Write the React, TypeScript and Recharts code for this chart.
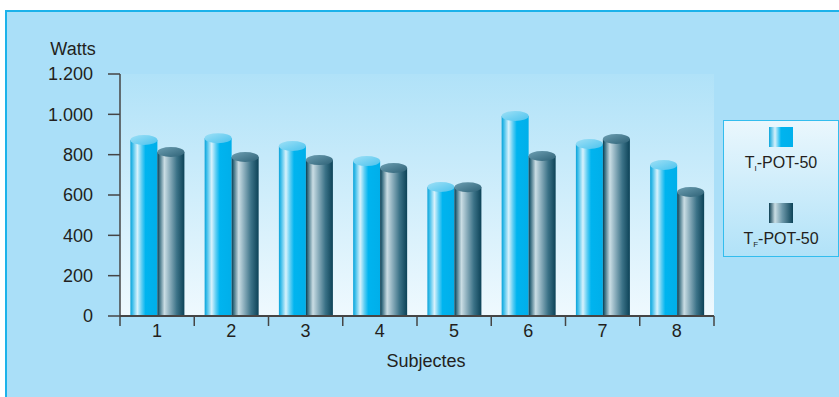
import React from "react";
import { BarChart, Bar, XAxis, YAxis, CartesianGrid, Legend } from "recharts";

// Power output (W) per subject, initial vs final test
const subjects = ["1", "2", "3", "4", "5", "6", "7", "8"];
const initialWatts = [873, 882, 843, 768, 640, 992, 853, 749];
const finalWatts = [813, 788, 773, 734, 638, 793, 878, 615];
const wattTicks = [0, 200, 400, 600, 800, 1000, 1200];
const seriesSubs = ["I", "F"];

const data = subjects.map((s, i) => ({ subject: s, ti: initialWatts[i], tf: finalWatts[i] }));

const FONT = "'Liberation Sans', Arial, Helvetica, sans-serif";
const INK = "#231f20";
const AXIS = "#454545";

const fmtThousands = (v: number) => v.toString().replace(/\B(?=(\d{3})+(?!\d))/g, ".");

function Cylinder(props: any) {
  const { x, y, width, height, body, cap } = props;
  if (!height || height <= 0) return null;
  const ry = 5;
  return (
    <g>
      <rect x={x} y={y} width={width} height={height} fill={`url(#${body})`} />
      <ellipse cx={x + width / 2} cy={y} rx={width / 2} ry={ry} fill={`url(#${cap})`} />
    </g>
  );
}

function SubjectTick(props: any) {
  const { x, y, payload, index } = props;
  const half = payload?.offset ?? 0;
  const last = index === subjects.length - 1;
  return (
    <g>
      <line x1={x - half} x2={x - half} y1={y} y2={y + 10} stroke={AXIS} strokeWidth={1.5} />
      {last && <line x1={x + half} x2={x + half} y1={y} y2={y + 10} stroke={AXIS} strokeWidth={1.5} />}
      <text x={x} y={y + 21} textAnchor="middle" fontSize={18} fontFamily={FONT} fill={INK}>
        {payload.value}
      </text>
    </g>
  );
}

function LegendBox() {
  const swatch = (id: string) => (
    <svg width={24} height={20} style={{ display: "block", margin: "0 auto" }}>
      <rect width={24} height={20} fill={`url(#${id})`} />
    </svg>
  );
  const label = (sub: string) => (
    <div style={{ fontFamily: FONT, fontSize: 16, color: INK, textAlign: "center", marginTop: 7 }}>
      T<sub style={{ fontSize: 8, verticalAlign: "-3px" }}>{sub}</sub>-POT-50
    </div>
  );
  return (
    <div
      style={{
        boxSizing: "border-box",
        width: 116,
        height: 137,
        border: "1.5px solid #33bdee",
        background: "linear-gradient(to bottom, #eaf7fd 0%, #b1e2f8 100%)",
        paddingTop: 6,
      }}
    >
      <svg width={0} height={0} style={{ position: "absolute" }}>
        <defs>
          <linearGradient id="legLight" x1="0" x2="1" y1="0" y2="0">
            <stop offset="0%" stopColor="#0aa6dc" />
            <stop offset="25%" stopColor="#d6f1fb" />
            <stop offset="50%" stopColor="#00b4ef" />
            <stop offset="100%" stopColor="#00b0ec" />
          </linearGradient>
          <linearGradient id="legDark" x1="0" x2="1" y1="0" y2="0">
            <stop offset="0%" stopColor="#0b3e52" />
            <stop offset="25%" stopColor="#c9dde4" />
            <stop offset="55%" stopColor="#6d98aa" />
            <stop offset="100%" stopColor="#0c4358" />
          </linearGradient>
        </defs>
      </svg>
      {swatch("legLight")}
      {label(seriesSubs[0])}
      <div style={{ height: 30 }} />
      {swatch("legDark")}
      {label(seriesSubs[1])}
    </div>
  );
}

export default function App() {
  return (
    <div style={{ position: "absolute", left: 0, top: 0, width: 839, height: 397, overflow: "hidden", background: "#fff" }}>
      <div
        style={{
          position: "absolute",
          left: 5,
          top: 10,
          width: 840,
          height: 400,
          background: "#aadff8",
          borderTop: "2px solid #1cb2ea",
          borderLeft: "2px solid #1cb2ea",
        }}
      />
      <div style={{ position: "absolute", left: 0, top: 0 }}>
        <BarChart
          width={839}
          height={397}
          data={data}
          margin={{ top: 74, right: 125, bottom: 29, left: 60 }}
          barCategoryGap="14%"
          barGap={0}
        >
          <defs>
            <linearGradient id="plotBg" x1="0" x2="0" y1="0" y2="1">
              <stop offset="0%" stopColor="#b0e2f8" />
              <stop offset="100%" stopColor="#eff9fe" />
            </linearGradient>
            <linearGradient id="bodyLight" x1="0" x2="1" y1="0" y2="0">
              <stop offset="0%" stopColor="#0aa2d8" />
              <stop offset="8%" stopColor="#3dbeea" />
              <stop offset="26%" stopColor="#d8f2fc" />
              <stop offset="42%" stopColor="#5ccdf3" />
              <stop offset="56%" stopColor="#00b4ef" />
              <stop offset="100%" stopColor="#00afea" />
            </linearGradient>
            <linearGradient id="capLight" x1="0" x2="1" y1="0" y2="1">
              <stop offset="0%" stopColor="#9ee0f6" />
              <stop offset="100%" stopColor="#4cc3ee" />
            </linearGradient>
            <linearGradient id="bodyDark" x1="0" x2="1" y1="0" y2="0">
              <stop offset="0%" stopColor="#0a3a4d" />
              <stop offset="6%" stopColor="#2e6579" />
              <stop offset="26%" stopColor="#cadde4" />
              <stop offset="45%" stopColor="#8eb0be" />
              <stop offset="72%" stopColor="#3b7287" />
              <stop offset="100%" stopColor="#0c4257" />
            </linearGradient>
            <linearGradient id="capDark" x1="0" x2="1" y1="0" y2="1">
              <stop offset="0%" stopColor="#6d9fb2" />
              <stop offset="100%" stopColor="#2d6176" />
            </linearGradient>
          </defs>
          <CartesianGrid horizontal={false} vertical={false} fill="url(#plotBg)" stroke="none" />
          <XAxis
            dataKey="subject"
            height={52}
            tickLine={false}
            tickSize={0}
            tickMargin={0}
            axisLine={{ stroke: AXIS, strokeWidth: 2 }}
            tick={<SubjectTick />}
            interval={0}
            label={{
              value: "Subjectes",
              position: "insideBottom",
              offset: 1,
              dx: 9,
              fontSize: 18,
              fontFamily: FONT,
              fill: INK,
            }}
          />
          <YAxis
            width={60}
            domain={[0, 1200]}
            ticks={wattTicks}
            tickFormatter={fmtThousands}
            tickSize={12}
            tickMargin={15}
            tickLine={{ stroke: AXIS, strokeWidth: 1.5 }}
            axisLine={{ stroke: AXIS, strokeWidth: 1.5 }}
            tick={{ fontSize: 18, fontFamily: FONT, fill: INK }}
            label={{
              value: "Watts",
              position: "top",
              offset: 19,
              dx: -17,
              fontSize: 18,
              fontFamily: FONT,
              fill: INK,
            }}
          />
          <Legend
            layout="vertical"
            align="center"
            verticalAlign="middle"
            wrapperStyle={{ left: 723, top: 120, width: 116, height: 137 }}
            content={() => <LegendBox />}
          />
          <Bar
            dataKey="ti"
            name={`T${seriesSubs[0]}-POT-50`}
            isAnimationActive={false}
            shape={(p: any) => <Cylinder {...p} body="bodyLight" cap="capLight" />}
          />
          <Bar
            dataKey="tf"
            name={`T${seriesSubs[1]}-POT-50`}
            isAnimationActive={false}
            shape={(p: any) => <Cylinder {...p} body="bodyDark" cap="capDark" />}
          />
        </BarChart>
      </div>
    </div>
  );
}
